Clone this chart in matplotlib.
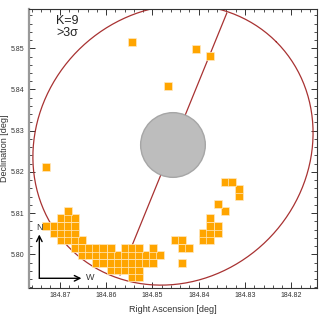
import numpy as np
import matplotlib
matplotlib.use("Agg")
import matplotlib.pyplot as plt
from matplotlib.patches import Ellipse

plt.rcParams['font.family'] = ['Liberation Sans', 'DejaVu Sans']

# Significant pixels (RA, Dec) in degrees, row by row
ra_pix = [
    184.85440, 184.85286,
    184.85902, 184.85748, 184.85594, 184.85440, 184.85286,
    184.86210, 184.86056, 184.85902, 184.85748, 184.85594, 184.85440, 184.85286, 184.85132, 184.84979, 184.84363,
    184.86518, 184.86364, 184.86210, 184.86056, 184.85902, 184.85748, 184.85594, 184.85440, 184.85286, 184.85132, 184.84979, 184.84825,
    184.86672, 184.86518, 184.86364, 184.86210, 184.86056, 184.85902, 184.85594, 184.85440, 184.85286, 184.84979, 184.84363, 184.84209,
    184.86980, 184.86826, 184.86672, 184.86518, 184.84517, 184.84363, 184.83901, 184.83747,
    184.87134, 184.86980, 184.86826, 184.86672, 184.83901, 184.83747, 184.83593,
    184.87288, 184.87134, 184.86980, 184.86826, 184.86672, 184.83747, 184.83593,
    184.86980, 184.86826, 184.86672, 184.83747,
    184.86826, 184.83439,
    184.83593,
    184.83131,
    184.83131,
    184.83439, 184.83285,
    184.87288,
    184.84671,
    184.83747,
    184.84055,
    184.85440,
]
dec_pix = (
    [5.79442] * 2 +
    [5.79621] * 5 +
    [5.79799] * 10 +
    [5.79978] * 12 +
    [5.80157] * 12 +
    [5.80336] * 8 +
    [5.80515] * 7 +
    [5.80693] * 7 +
    [5.80872] * 4 +
    [5.81051] * 2 +
    [5.81230] * 1 +
    [5.81409] * 1 +
    [5.81587] * 1 +
    [5.81766] * 2 +
    [5.82124] * 1 +
    [5.84090] * 1 +
    [5.84805] * 1 +
    [5.84984] * 1 +
    [5.85162] * 1
)

# Source / aperture geometry (deg)
core_center = (184.84555, 5.82653)
core_size = (0.01396, 0.01570)
ring_center = (184.84555, 5.82653)
ring_axis_a = (-0.02228, 0.02506)
ring_axis_b = (0.02045, 0.02300)
line_ra = [184.85698, 184.83395]
line_dec = [5.79498, 5.85850]

xticks = [184.87, 184.86, 184.85, 184.84, 184.83, 184.82]
yticks = [5.80, 5.81, 5.82, 5.83, 5.84, 5.85]

fig = plt.figure(figsize=(3.27, 3.27), dpi=100)
ax = fig.add_axes([0.0887, 0.1193, 0.8807, 0.8523])

ax.set_xlim(184.87663, 184.81446)
ax.set_ylim(5.79182, 5.85947)

red = '#A83232'
ax.plot(line_ra, line_dec, color=red, lw=0.9, zorder=2)

tau = np.linspace(0, 2 * np.pi, 400)
ex = ring_center[0] + ring_axis_a[0] * np.cos(tau) + ring_axis_b[0] * np.sin(tau)
ey = ring_center[1] + ring_axis_a[1] * np.cos(tau) + ring_axis_b[1] * np.sin(tau)
ax.plot(ex, ey, color=red, lw=0.9, zorder=2)

ax.scatter(ra_pix, dec_pix, marker='s', s=29, facecolor='#FFA500',
           edgecolor='#FFE9C0', linewidths=0.5, zorder=3)

core = Ellipse(core_center, core_size[0], core_size[1], facecolor='#BDBDBD',
               edgecolor='#A6A6A6', lw=1.0, zorder=4)
ax.add_patch(core)

ax.set_xticks(xticks)
ax.set_yticks(yticks)
ax.set_xticklabels(['%.2f' % v for v in xticks])
ax.set_yticklabels(['%.2f' % v for v in yticks])
ax.xaxis.set_minor_locator(matplotlib.ticker.MultipleLocator(0.002))
ax.yaxis.set_minor_locator(matplotlib.ticker.MultipleLocator(0.002))
ax.tick_params(which='both', direction='in', top=True, right=True,
               labelsize=5, colors='#333333', pad=3)
ax.tick_params(which='major', length=4, width=0.7)
ax.tick_params(which='minor', length=2, width=0.6)
for s in ['top', 'right', 'bottom']:
    ax.spines[s].set_color('#333333')
    ax.spines[s].set_linewidth(0.8)
ax.spines['left'].set_color('#999999')
ax.spines['left'].set_linewidth(1.6)

ax.set_xlabel('Right Ascension [deg]', fontsize=6.5, color='#333333', labelpad=4)
ax.set_ylabel('Declination [deg]', fontsize=6.5, color='#333333', labelpad=1.5)

ax.text(0.094, 0.947, 'K=9', transform=ax.transAxes, fontsize=9,
        ha='left', va='baseline', color='#222222')
ax.text(0.094, 0.904, '>3σ', transform=ax.transAxes, fontsize=9,
        ha='left', va='baseline', color='#222222')

ax.annotate('', xy=(0.0358, 0.192), xytext=(0.0358, 0.0348),
            xycoords='axes fraction',
            arrowprops=dict(arrowstyle='->', lw=1.0, color='black',
                            shrinkA=0, shrinkB=0))
ax.annotate('', xy=(0.182, 0.0348), xytext=(0.0358, 0.0348),
            xycoords='axes fraction',
            arrowprops=dict(arrowstyle='->', lw=1.0, color='black',
                            shrinkA=0, shrinkB=0))
ax.text(0.0358, 0.2164, 'N', transform=ax.transAxes, fontsize=6.5,
        ha='center', va='center', color='#333333')
ax.text(0.2118, 0.0384, 'W', transform=ax.transAxes, fontsize=6.5,
        ha='center', va='center', color='#333333')

fig.savefig('out.png', dpi=100)
